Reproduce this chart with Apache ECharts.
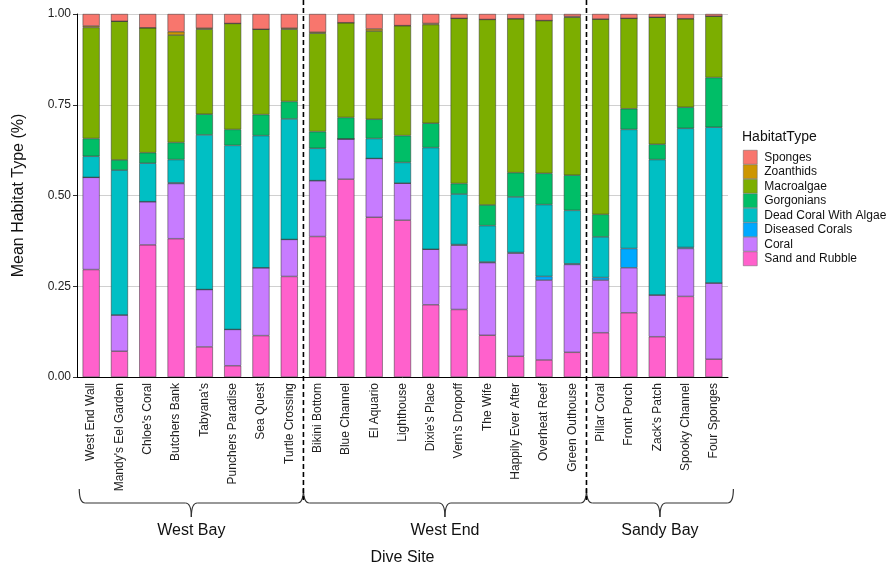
<!DOCTYPE html>
<html>
<head>
<meta charset="utf-8">
<script src="https://cdn.jsdelivr.net/npm/echarts@6/dist/echarts.min.js"></script>
<style>
  html, body { margin: 0; padding: 0; background: #fff; }
  #chart { width: 890px; height: 566px; }
</style>
</head>
<body>
<div id="chart"></div>
<script>
// dive sites, in plotting order
var sites = ['West End Wall', "Mandy's Eel Garden", "Chloe's Coral", 'Butchers Bank', "Tabyana's",
  'Punchers Paradise', 'Sea Quest', 'Turtle Crossing',
  'Bikini Bottom', 'Blue Channel', 'El Aquario', 'Lighthouse', "Dixie's Place", "Vern's Dropoff",
  'The Wife', 'Happily Ever After', 'Overheat Reef', 'Green Outhouse',
  'Pillar Coral', 'Front Porch', "Zack's Patch", 'Spooky Channel', 'Four Sponges'];

var regionNames = ['West Bay', 'West End', 'Sandy Bay'];
var regionSizes = [8, 10, 5];

var yTicks = [0, 0.25, 0.5, 0.75, 1];

// stack order, bottom -> top
var habitatTypes = ['Sand and Rubble', 'Coral', 'Diseased Corals', 'Dead Coral With Algae',
  'Gorgonians', 'Macroalgae', 'Zoanthids', 'Sponges'];
var colors = ['#FF61CC', '#C77CFF', '#00A9FF', '#00BFC4', '#00BE67', '#7CAE00', '#CD9600', '#F8766D'];

var sandRubble = [0.296, 0.071, 0.364, 0.381, 0.083, 0.031, 0.114, 0.277,
  0.387, 0.545, 0.440, 0.432, 0.199, 0.186, 0.115, 0.057, 0.047, 0.068,
  0.122, 0.177, 0.111, 0.222, 0.049];
var coral = [0.254, 0.100, 0.119, 0.152, 0.158, 0.100, 0.187, 0.102,
  0.154, 0.111, 0.162, 0.102, 0.153, 0.177, 0.200, 0.284, 0.220, 0.242,
  0.145, 0.124, 0.115, 0.132, 0.210];
var diseased = [0, 0, 0, 0.002, 0, 0, 0, 0,
  0, 0, 0, 0, 0, 0.002, 0.002, 0.002, 0.010, 0.002,
  0.007, 0.053, 0, 0.003, 0];
var deadCoral = [0.058, 0.399, 0.106, 0.064, 0.426, 0.507, 0.364, 0.332,
  0.089, 0, 0.055, 0.057, 0.280, 0.139, 0.100, 0.153, 0.198, 0.147,
  0.112, 0.328, 0.373, 0.328, 0.429];
var gorgonians = [0.049, 0.028, 0.029, 0.047, 0.057, 0.044, 0.058, 0.048,
  0.046, 0.059, 0.053, 0.074, 0.067, 0.029, 0.057, 0.067, 0.086, 0.097,
  0.062, 0.057, 0.042, 0.058, 0.137];
var macroalgae = [0.306, 0.382, 0.344, 0.296, 0.234, 0.292, 0.235, 0.199,
  0.271, 0.261, 0.243, 0.303, 0.272, 0.455, 0.511, 0.424, 0.421, 0.435,
  0.538, 0.249, 0.350, 0.244, 0.169];
var zoanthids = [0.004, 0, 0, 0.009, 0.003, 0, 0, 0.003,
  0.003, 0, 0.006, 0, 0.003, 0, 0, 0, 0, 0.002,
  0, 0, 0, 0, 0];
var sponges = [0.033, 0.020, 0.038, 0.049, 0.039, 0.026, 0.042, 0.039,
  0.050, 0.024, 0.041, 0.032, 0.026, 0.012, 0.015, 0.013, 0.018, 0.007,
  0.014, 0.012, 0.009, 0.013, 0.006];

var seriesData = [sandRubble, coral, diseased, deadCoral, gorgonians, macroalgae, zoanthids, sponges];

var font = 'Liberation Sans, Arial, sans-serif';
var myChart = echarts.init(document.getElementById('chart'));

var series = [];
for (var i = 0; i < habitatTypes.length; i++) {
  series.push({
    name: habitatTypes[i],
    type: 'bar',
    stack: 'all',
    barWidth: 17,
    data: seriesData[i],
    itemStyle: { color: colors[i], borderColor: '#333', borderWidth: 0.5 },
    emphasis: { disabled: true }
  });
}

myChart.setOption({
  animation: false,
  textStyle: { fontFamily: font },
  grid: { left: 77, right: 162, top: 14, bottom: 189, outerBoundsMode: 'none', containLabel: false },
  legend: {
    orient: 'vertical',
    left: 738,
    top: 145,
    icon: 'rect',
    itemWidth: 14,
    itemHeight: 14,
    itemGap: 0,
    data: habitatTypes.slice().reverse(),
    selectedMode: false,
    itemStyle: { borderColor: '#666', borderWidth: 0.5 },
    textStyle: { fontSize: 12, lineHeight: 14, color: '#111', fontFamily: font, padding: [0, 0, 0, 2] }
  },
  xAxis: {
    type: 'category',
    data: sites,
    name: 'Dive Site',
    nameLocation: 'middle',
    nameGap: 173,
    nameTextStyle: { fontSize: 16, color: '#111' },
    axisLine: { lineStyle: { color: '#000', width: 1 } },
    axisTick: { alignWithLabel: true, length: 4, lineStyle: { color: '#333' } },
    axisLabel: { rotate: 90, interval: 0, fontSize: 12, color: '#222', margin: 6 }
  },
  yAxis: {
    type: 'value',
    min: yTicks[0],
    max: yTicks[yTicks.length - 1],
    interval: 0.25,
    name: 'Mean Habitat Type (%)',
    nameLocation: 'middle',
    nameGap: 50,
    nameTextStyle: { fontSize: 16, color: '#111' },
    axisLine: { show: true, lineStyle: { color: '#000', width: 1 } },
    axisTick: { show: true, length: 4, lineStyle: { color: '#333' } },
    axisLabel: { fontSize: 12, color: '#222', margin: 6, formatter: function (v) { return v.toFixed(2); } },
    splitLine: { lineStyle: { color: '#c4c4c4', width: 0.8 } }
  },
  series: series
});

// region separators, braces and labels
function px(idx) { return myChart.convertToPixel({ xAxisIndex: 0 }, idx); }
var band = px(1) - px(0);
var graphics = [];
graphics.push({
  type: 'text', x: 742, y: 137,
  style: { text: 'HabitatType', fontSize: 14, fill: '#111', fontFamily: font, verticalAlign: 'middle' }
});
var start = 0;
var bounds = [px(0) - 0.42 * band];
for (var r = 0; r < regionSizes.length; r++) {
  start += regionSizes[r];
  if (r < regionSizes.length - 1) bounds.push((px(start - 1) + px(start)) / 2);
  else bounds.push(px(start - 1) + 0.69 * band);
}
var yB = 503, yEnd = 489, yTip = 517;
var braceStyle = { fill: null, stroke: '#333', lineWidth: 1.2 };
for (var r = 0; r < regionNames.length; r++) {
  var x0 = bounds[r], x1 = bounds[r + 1], mid = (x0 + x1) / 2;
  graphics.push({ type: 'bezierCurve', shape: { x1: x0, y1: yEnd, x2: x0 + 6, y2: yB, cpx1: x0, cpy1: yB }, style: braceStyle });
  graphics.push({ type: 'line', shape: { x1: x0 + 6, y1: yB, x2: mid - 6, y2: yB }, style: braceStyle });
  graphics.push({ type: 'bezierCurve', shape: { x1: mid - 6, y1: yB, x2: mid, y2: yTip, cpx1: mid, cpy1: yB }, style: braceStyle });
  graphics.push({ type: 'bezierCurve', shape: { x1: mid + 6, y1: yB, x2: mid, y2: yTip, cpx1: mid, cpy1: yB }, style: braceStyle });
  graphics.push({ type: 'line', shape: { x1: mid + 6, y1: yB, x2: x1 - 6, y2: yB }, style: braceStyle });
  graphics.push({ type: 'bezierCurve', shape: { x1: x1 - 6, y1: yB, x2: x1, y2: yEnd, cpx1: x1, cpy1: yB }, style: braceStyle });
  graphics.push({
    type: 'text', x: mid, y: 531,
    style: { text: regionNames[r], fontSize: 16, fill: '#111', fontFamily: font, align: 'center', verticalAlign: 'middle' }
  });
  if (r > 0) {
    graphics.push({
      type: 'line', shape: { x1: x0, y1: 0, x2: x0, y2: 500 },
      style: { stroke: '#000', lineWidth: 1.6, lineDash: [5, 3] }, z: 10
    });
  }
}
myChart.setOption({ graphic: graphics });
</script>
</body>
</html>
